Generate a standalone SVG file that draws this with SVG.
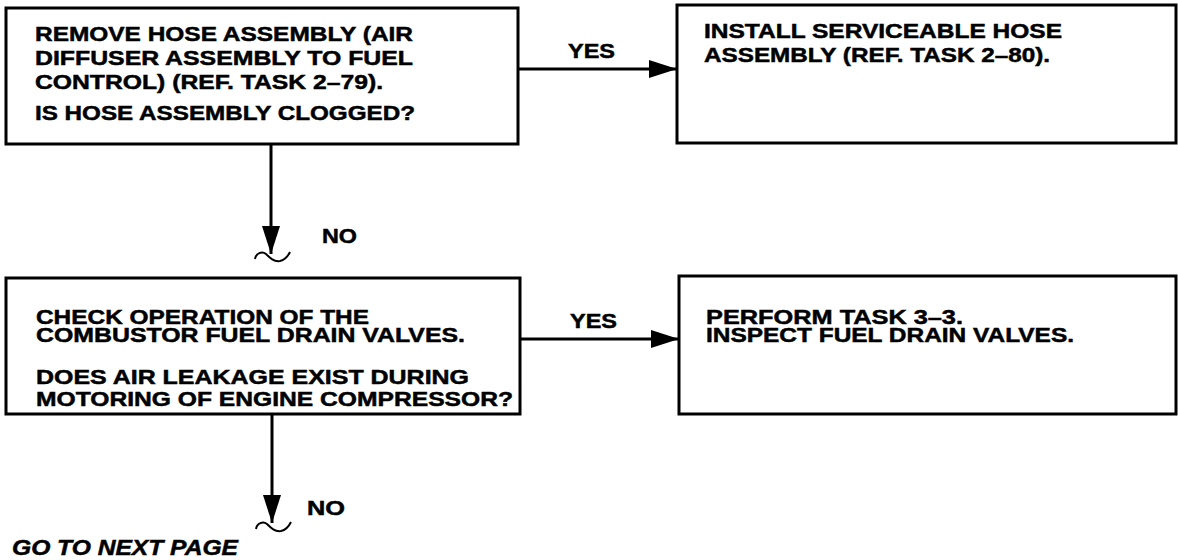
<svg xmlns="http://www.w3.org/2000/svg" width="1178" height="560" viewBox="0 0 1178 560">
<style>
.box{fill:#fff;stroke:#000;stroke-width:3}
.t{font-family:"Liberation Sans",Arial,sans-serif;font-weight:bold;font-size:21px;fill:#000;stroke:#000;stroke-width:0.5}
.lbl{font-family:"Liberation Sans",Arial,sans-serif;font-weight:bold;font-size:21px;fill:#000;stroke:#000;stroke-width:0.5}
.it{font-family:"Liberation Sans",Arial,sans-serif;font-weight:bold;font-style:italic;font-size:22px;fill:#000;stroke:#000;stroke-width:0.5}
.ln{fill:none;stroke:#000;stroke-width:3}
.sq{fill:none;stroke:#000;stroke-width:2}
</style>
<defs>
<marker id="ah" markerUnits="userSpaceOnUse" markerWidth="28" markerHeight="20" refX="28" refY="10" orient="auto">
<path d="M0,1 L28,10 L0,19 z" fill="#000"/>
</marker>
</defs>
<g id="n1">
<rect class="box" x="6" y="8" width="512" height="136"/>
<text class="t" x="35" y="41" textLength="378" lengthAdjust="spacingAndGlyphs">REMOVE HOSE ASSEMBLY (AIR</text>
<text class="t" x="35" y="65" textLength="378" lengthAdjust="spacingAndGlyphs">DIFFUSER ASSEMBLY TO FUEL</text>
<text class="t" x="35" y="89" textLength="348" lengthAdjust="spacingAndGlyphs">CONTROL) (REF. TASK 2–79).</text>
<text class="t" x="35" y="120" textLength="380" lengthAdjust="spacingAndGlyphs">IS HOSE ASSEMBLY CLOGGED?</text>
</g>
<g id="n2">
<rect class="box" x="677" y="5" width="499" height="138"/>
<text class="t" x="704" y="38" textLength="358" lengthAdjust="spacingAndGlyphs">INSTALL SERVICEABLE HOSE</text>
<text class="t" x="704" y="62" textLength="346" lengthAdjust="spacingAndGlyphs">ASSEMBLY (REF. TASK 2–80).</text>
</g>
<g id="n3">
<rect class="box" x="6" y="278" width="514" height="136"/>
<text class="t" x="36" y="324" textLength="333" lengthAdjust="spacingAndGlyphs">CHECK OPERATION OF THE</text>
<text class="t" x="36" y="342" textLength="429" lengthAdjust="spacingAndGlyphs">COMBUSTOR FUEL DRAIN VALVES.</text>
<text class="t" x="36" y="384" textLength="433" lengthAdjust="spacingAndGlyphs">DOES AIR LEAKAGE EXIST DURING</text>
<text class="t" x="36" y="406" textLength="477" lengthAdjust="spacingAndGlyphs">MOTORING OF ENGINE COMPRESSOR?</text>
</g>
<g id="n4">
<rect class="box" x="679" y="276" width="497" height="138"/>
<text class="t" x="706" y="324" textLength="257" lengthAdjust="spacingAndGlyphs">PERFORM TASK 3–3.</text>
<text class="t" x="706" y="342" textLength="368" lengthAdjust="spacingAndGlyphs">INSPECT FUEL DRAIN VALVES.</text>
</g>
<g id="connectors">
<line class="ln" x1="518" y1="69" x2="677" y2="69" marker-end="url(#ah)"/>
<text class="lbl" x="568" y="58" textLength="47" lengthAdjust="spacingAndGlyphs">YES</text>
<line class="ln" x1="271" y1="144" x2="271" y2="254" marker-end="url(#ah)"/>
<path class="sq" d="M255,259 C256,253 262,251 266,254 C270,258 274,262 280,261 C285,260 288,256 290,252"/>
<text class="lbl" x="322" y="243" textLength="35" lengthAdjust="spacingAndGlyphs">NO</text>
<line class="ln" x1="520" y1="339" x2="679" y2="339" marker-end="url(#ah)"/>
<text class="lbl" x="570" y="328" textLength="47" lengthAdjust="spacingAndGlyphs">YES</text>
<line class="ln" x1="272" y1="414" x2="272" y2="523" marker-end="url(#ah)"/>
<path class="sq" d="M256,529 C257,523 263,521 267,524 C271,528 275,532 281,531 C286,530 289,526 291,522"/>
<text class="lbl" x="307" y="515" textLength="38" lengthAdjust="spacingAndGlyphs">NO</text>
</g>
<text class="it" x="12" y="555" textLength="226" lengthAdjust="spacingAndGlyphs">GO TO NEXT PAGE</text>
</svg>
